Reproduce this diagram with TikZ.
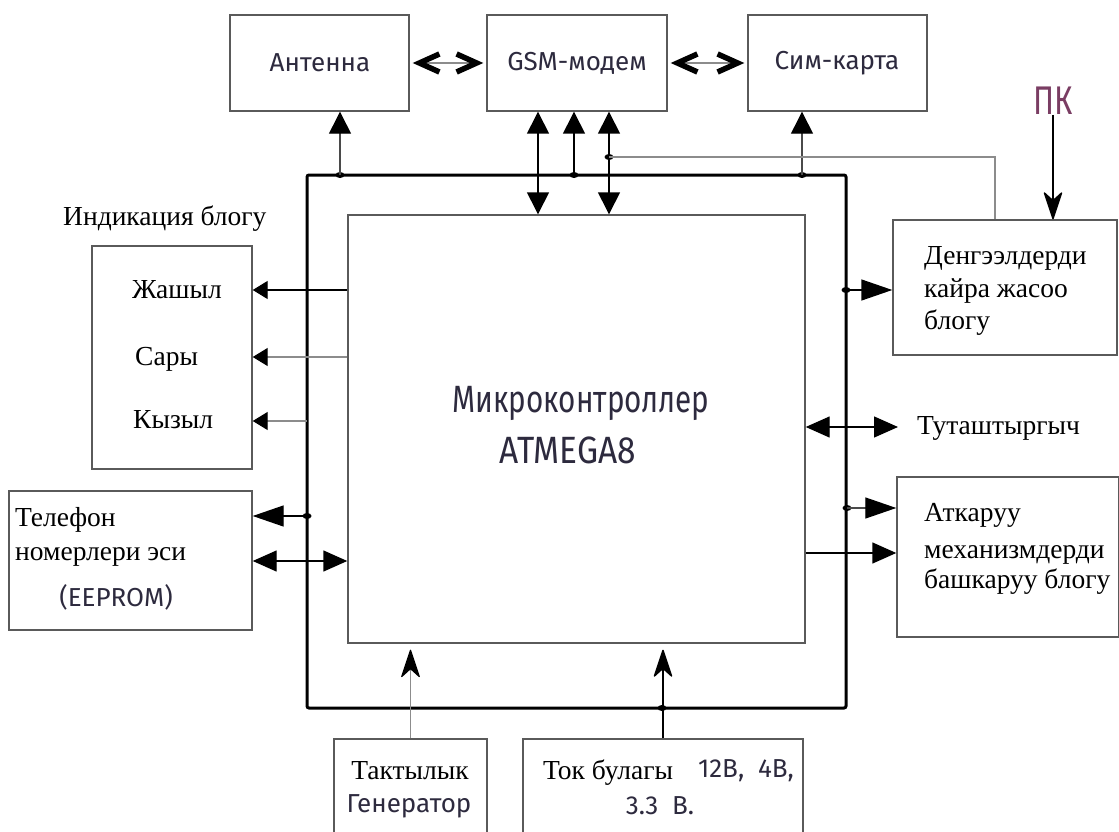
\documentclass[tikz,border=0pt]{standalone}
\usepackage{fontspec}
\setmainfont{Liberation Serif}
\newfontfamily\gost{Fira Sans}
\newfontfamily\gostn[FakeStretch=0.78]{Fira Sans}
\newfontfamily\gostm[FakeStretch=0.88]{Fira Sans}
\usetikzlibrary{arrows.meta,shapes.geometric}
\definecolor{boxgray}{HTML}{5A5A5A}
\definecolor{linegray}{HTML}{8C8C8C}
\definecolor{darkline}{HTML}{4A4A4A}
\definecolor{gostcol}{HTML}{2D2A3E}
\definecolor{pkcol}{HTML}{7A3D63}
\begin{document}
\begin{tikzpicture}[x=1pt,y=-1pt,
  box/.style={draw=boxgray, line width=1.4pt, inner sep=0pt},
  serif/.style={font=\fontsize{27.5}{33}\selectfont, text=black, inner sep=0pt},
  gosttxt/.style={font=\gost\fontsize{26}{30}\selectfont, text=gostcol, inner sep=0pt},
  blk/.style={line width=1.4pt, draw=black},
  gry/.style={line width=1.2pt, draw=linegray},
  dkl/.style={line width=1.3pt, draw=darkline},
  dot/.style={ellipse, fill=black, inner sep=0pt, minimum width=9pt, minimum height=6pt},
]
\tikzset{
  Tbig/.tip={Triangle[length=22pt,width=22pt,color=black]},
  Tsm/.tip={Triangle[length=15pt,width=18pt,color=black]},
  Tmid/.tip={Triangle[length=24pt,width=21pt,color=black]},
  Tlong/.tip={Triangle[length=31pt,width=21pt,color=black]},
  Stl/.tip={Stealth[length=30pt,width=20pt,inset=9pt,round,color=black]},
  Chev/.tip={Straight Barb[length=20pt,width=18pt,line width=5.5pt,color=black]},
}
\useasboundingbox (0,0) rectangle (1119,832);
\clip (0,0) rectangle (1119,832);
\fill[white] (0,0) rectangle (1119,832);

% ---------- top boxes
\node[box, minimum width=179pt, minimum height=96pt] (ant) at (319.5,63) {};
\node[gosttxt] at (320,63) {Антенна};
\node[box, minimum width=180pt, minimum height=96pt] (gsm) at (577,63) {};
\node[gosttxt] at (577,63) {GSM-модем};
\node[box, minimum width=179pt, minimum height=96pt] (sim) at (837.5,63) {};
\node[gosttxt] at (837,63) {Сим-карта};

% ---------- outer and inner (MCU) boxes
\node[draw=black, line width=3pt, rounded corners=2pt, minimum width=539pt, minimum height=533pt, inner sep=0pt] (outer) at (576.5,441.5) {};
\node[box, minimum width=457pt, minimum height=428pt] (mcu) at (576.5,429) {};
\node[font=\gostn\fontsize{38}{40}\selectfont, text=gostcol, inner sep=0pt] (mcut1) at (581,403) {Микроконтроллер};
\node[font=\gostm\fontsize{38}{40}\selectfont, text=gostcol, inner sep=0pt] (mcut2) at (568,450) {ATMEGA8};

% ---------- indication block
\node[serif, anchor=base west] (indlbl) at (63,225) {Индикация блогу};
\node[box, minimum width=160pt, minimum height=223pt] (ind) at (172,357.5) {};
\node[serif, anchor=base west] (zh) at (132,298) {Жашыл};
\node[serif, anchor=base west] (sa) at (135,365) {Сары};
\node[serif, anchor=base west] (ky) at (133,428) {Кызыл};

% ---------- phone memory
\node[box, minimum width=243pt, minimum height=139pt] (phone) at (130.5,560.5) {};
\node[serif, anchor=base west] at (15,526) {Телефон};
\node[serif, anchor=base west] at (15,560) {номерлери эси};
\node[gosttxt] at (116,597) {(EEPROM)};

% ---------- right blocks
\node[box, minimum width=224pt, minimum height=135pt] (deng) at (1005,287.5) {};
\node[serif, anchor=base west] at (924,264) {Денгээлдерди};
\node[serif, anchor=base west] at (924,297) {кайра жасоо};
\node[serif, anchor=base west] at (924,329) {блогу};
\node[box, minimum width=222pt, minimum height=160pt] (atk) at (1008,557) {};
\node[serif, anchor=base west] at (924,521) {Аткаруу};
\node[serif, anchor=base west] at (924,558) {механизмдерди};
\node[serif, anchor=base west] at (924,588) {башкаруу блогу};
\node[serif, anchor=base west] (tut) at (917,434) {Туташтыргыч};
\node[font=\gostn\fontsize{40}{42}\selectfont, text=pkcol, inner sep=0pt] (pk) at (1053,101) {ПК};

% ---------- bottom blocks
\node[box, minimum width=153pt, minimum height=140pt] (takt) at (410.5,809) {};
\node[serif, anchor=base] at (410,779) {Тактылык};
\node[gosttxt] at (409,806) {Генератор};
\node[box, minimum width=280pt, minimum height=140pt] (tok) at (663,809) {};
\node[serif, anchor=base west] at (543,779) {Ток булагы};
\node[gosttxt] at (746,771) {12В,\ \ 4В,};
\node[gosttxt] at (660,806) {3.3\ \ В.};

% ---------- helper coordinates
\coordinate (c538) at (538,0);
\coordinate (c995) at (995,156);
\coordinate (y290) at (0,290);
\coordinate (y357) at (0,357);
\coordinate (dK) at (307,421);
\coordinate (y561) at (0,561);
\coordinate (y553) at (0,553);
\coordinate (y427) at (0,427);
\coordinate (tutend) at (898,427);

% ---------- junction dots
\node[dot] (dA) at (340,175) {};
\node[dot] (d574) at (574,175) {};
\node[dot] (d609) at (609,157) {};
\node[dot] (dS) at (802,175) {};
\node[dot] (dD) at (846,290) {};
\node[dot] (dAt) at (847,508) {};
\node[dot] (dP) at (307,516) {};
\node[dot] (dT) at (662,708) {};

% ---------- connectors, top
\draw[gry, Chev-Chev, shorten <=3pt, shorten >=3pt] (ant.east) -- (gsm.west);
\draw[gry, Chev-Chev, shorten <=3pt, shorten >=3pt] (gsm.east) -- (sim.west);
\draw[dkl, -Tbig] (dA.center) -- (ant.south -| dA);
\draw[blk, Tbig-Tbig] (gsm.south -| c538) -- (mcu.north -| c538);
\draw[blk, -Tbig] (d574.center) -- (gsm.south -| d574);
\draw[blk, Tbig-Tbig] (gsm.south -| d609) -- (mcu.north -| d609);
\draw[dkl, -Tbig] (dS.center) -- (sim.south -| dS);
\draw[gry] (d609.center) -| (deng.north -| c995);
\draw[blk, -Stl] (pk.south) -- (deng.north -| pk);

% ---------- connectors, left
\draw[blk, -Tsm] (mcu.west |- y290) -- (ind.east |- y290);
\draw[gry, -Tsm] (mcu.west |- y357) -- (ind.east |- y357);
\draw[gry, -Tsm] (dK) -- (ind.east |- dK);
\draw[blk, -Tlong] (dP.center) -- (phone.east |- dP);
\draw[blk, Tmid-Tmid] (phone.east |- y561) -- (mcu.west |- y561);

% ---------- connectors, right
\draw[blk, -Tlong] (dD.center) -- (deng.west |- dD);
\draw[blk, Tmid-Tmid] (mcu.east |- y427) -- (tutend);
\draw[dkl, -Tlong] (dAt.center) -- (atk.west |- dAt);
\draw[blk, -Tmid] (mcu.east |- y553) -- (atk.west |- y553);

% ---------- connectors, bottom
\draw[gry, -Stl, shorten >=6pt] (takt.north) -- (mcu.south -| takt.north);
\draw[blk, -Stl, shorten >=6pt] (tok.north) -- (mcu.south -| tok.north);
\end{tikzpicture}
\end{document}
